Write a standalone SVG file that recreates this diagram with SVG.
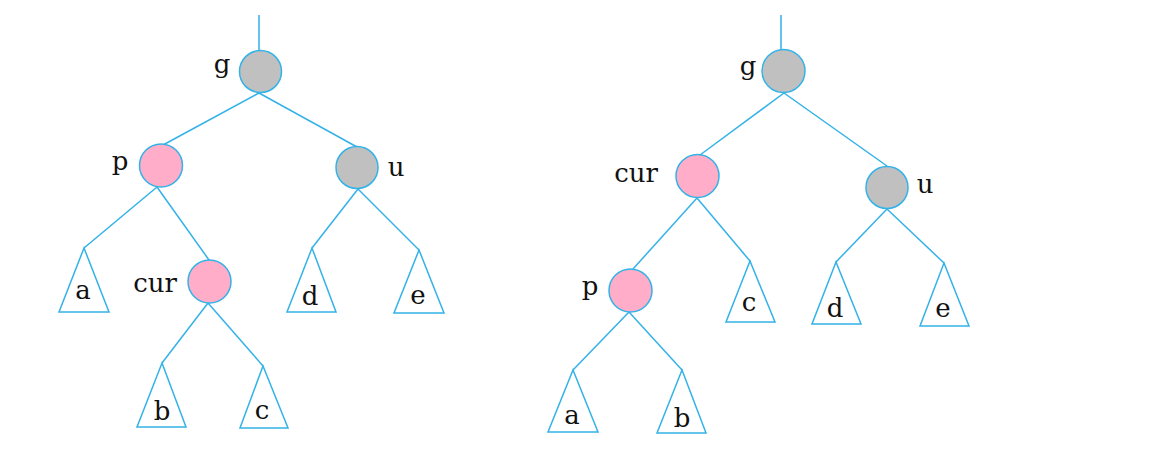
<svg xmlns="http://www.w3.org/2000/svg" width="1163" height="463" viewBox="0 0 1163 463">
<style>
.e{stroke:#33b2e8;stroke-width:1.5;fill:none}
.t{stroke:#33b2e8;stroke-width:1.5;fill:#fff}
.blk{fill:#c0c0c0;stroke:#33b2e8;stroke-width:1.5}
.red{fill:#ffadc8;stroke:#33b2e8;stroke-width:1.5}
text{font-family:"DejaVu Serif","Liberation Serif",serif;font-size:26px;fill:#111;text-anchor:middle}
</style>
<rect width="1163" height="463" fill="#fff"/>
<g id="connectors">
<line class="e" x1="259" y1="15" x2="259" y2="50"/>
<line class="e" x1="259" y1="93" x2="163" y2="145"/>
<line class="e" x1="259" y1="93" x2="357" y2="147"/>
<line class="e" x1="157" y1="187" x2="84" y2="248"/>
<line class="e" x1="157" y1="187" x2="209" y2="260"/>
<line class="e" x1="358" y1="189" x2="312" y2="248"/>
<line class="e" x1="358" y1="189" x2="419" y2="250"/>
<line class="e" x1="208" y1="303" x2="162" y2="363"/>
<line class="e" x1="208" y1="303" x2="263" y2="366"/>
<line class="e" x1="781" y1="15" x2="781" y2="50"/>
<line class="e" x1="784" y1="93" x2="700" y2="155"/>
<line class="e" x1="784" y1="93" x2="887" y2="166"/>
<line class="e" x1="697" y1="198" x2="633" y2="269"/>
<line class="e" x1="697" y1="198" x2="750" y2="261"/>
<line class="e" x1="887" y1="209" x2="836" y2="262"/>
<line class="e" x1="887" y1="209" x2="944" y2="263"/>
<line class="e" x1="629" y1="312" x2="573" y2="370"/>
<line class="e" x1="629" y1="312" x2="682" y2="370"/>
</g>
<g id="L_g"><circle class="blk" cx="260.5" cy="71.5" r="21"/><text x="222" y="73">g</text></g>
<g id="L_p"><circle class="red" cx="161" cy="165.5" r="21.5"/><text x="120" y="170">p</text></g>
<g id="L_u"><circle class="blk" cx="357" cy="167.5" r="21"/><text x="396" y="176">u</text></g>
<g id="L_cur"><circle class="red" cx="209.5" cy="281.5" r="21.5"/><text x="155" y="292">cur</text></g>
<g id="L_a"><polygon class="t" points="84,248 109,312 59,312"/><text x="83" y="299">a</text></g>
<g id="L_b"><polygon class="t" points="162,363 186,427 137,427"/><text x="162" y="420">b</text></g>
<g id="L_c"><polygon class="t" points="263,366 288,428 240,428"/><text x="262" y="419">c</text></g>
<g id="L_d"><polygon class="t" points="312,248 336,312 287,312"/><text x="310" y="305">d</text></g>
<g id="L_e"><polygon class="t" points="419,250 444,313 394,313"/><text x="418" y="304">e</text></g>
<g id="R_g"><circle class="blk" cx="783.5" cy="71" r="21.5"/><text x="748" y="75">g</text></g>
<g id="R_cur"><circle class="red" cx="697.5" cy="176" r="21.5"/><text x="636" y="182">cur</text></g>
<g id="R_u"><circle class="blk" cx="887" cy="187.5" r="21"/><text x="925" y="193">u</text></g>
<g id="R_p"><circle class="red" cx="630.5" cy="290.5" r="21.5"/><text x="590" y="295">p</text></g>
<g id="R_c"><polygon class="t" points="750,261 775,322 726,322"/><text x="749" y="311">c</text></g>
<g id="R_d"><polygon class="t" points="836,262 861,324 812,324"/><text x="835" y="317">d</text></g>
<g id="R_e"><polygon class="t" points="944,263 969,326 920,326"/><text x="943" y="317">e</text></g>
<g id="R_a"><polygon class="t" points="573,370 598,432 548,432"/><text x="572" y="424">a</text></g>
<g id="R_b"><polygon class="t" points="682,370 706,433 657,433"/><text x="682" y="427">b</text></g>
</svg>
